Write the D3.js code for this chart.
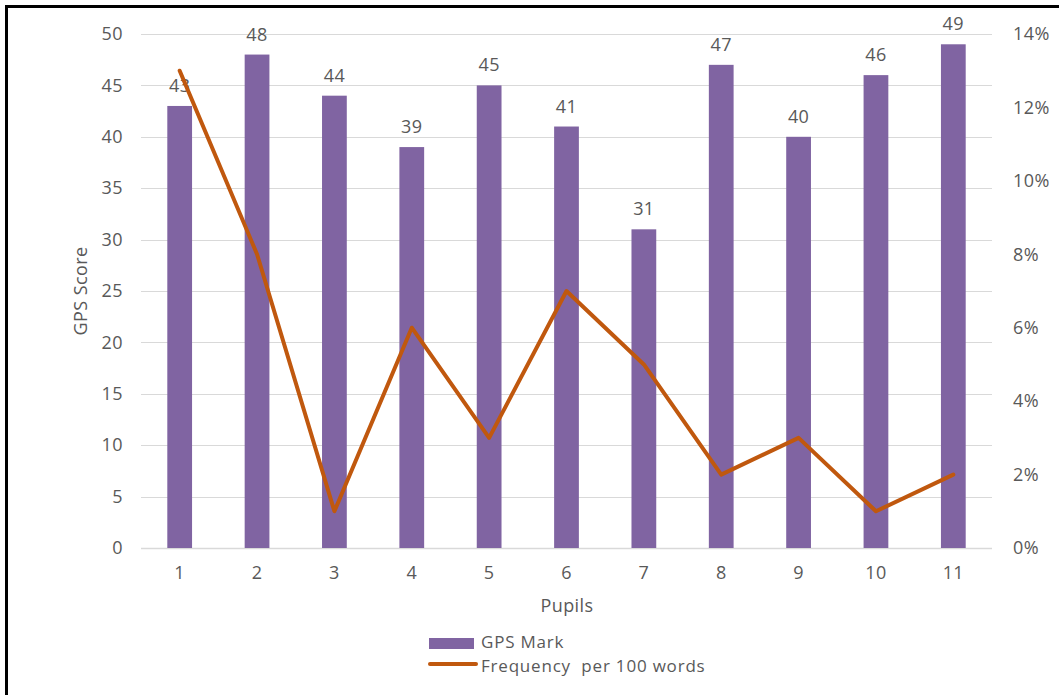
<!DOCTYPE html>
<html>
<head>
<meta charset="utf-8">
<script src="https://cdn.jsdelivr.net/npm/d3@7"></script>
<style>
  html, body { margin: 0; padding: 0; background: #fff; }
  svg { display: block; font-family: "Open Sans", sans-serif; letter-spacing: 0.4px; }
</style>
</head>
<body>
<svg id="chart" width="1059" height="695"></svg>
<script>
// Pupils and their scores
const pupils = ["1", "2", "3", "4", "5", "6", "7", "8", "9", "10", "11"];
const gpsMark = [43, 48, 44, 39, 45, 41, 31, 47, 40, 46, 49];
const frequency = [0.13, 0.08, 0.01, 0.06, 0.03, 0.07, 0.05, 0.02, 0.03, 0.01, 0.02];
const leftTicks = [0, 5, 10, 15, 20, 25, 30, 35, 40, 45, 50];
const rightTicks = [0, 0.02, 0.04, 0.06, 0.08, 0.10, 0.12, 0.14];

const barColor = "#8064A2";
const lineColor = "#C0580E";
const textColor = "#595959";
const gridColor = "#D9D9D9";
const fontFamily = "'Open Sans', sans-serif";
const fontSize = 18;

const svg = d3.select("#chart");

// outer frame
svg.append("rect")
  .attr("x", 6.5).attr("y", 6.5)
  .attr("width", 1070).attr("height", 700)
  .attr("fill", "none").attr("stroke", "#000").attr("stroke-width", 3);

const plot = { left: 141, right: 992, top: 34, bottom: 548 };

const x = d3.scaleBand().domain(pupils).range([plot.left, plot.right]).paddingInner(0).paddingOuter(0);
const yL = d3.scaleLinear().domain([0, 50]).range([plot.bottom, plot.top]);
const yR = d3.scaleLinear().domain([0, 0.14]).range([plot.bottom, plot.top]);

// horizontal gridlines
svg.append("g")
  .selectAll("line")
  .data(leftTicks)
  .join("line")
  .attr("x1", plot.left).attr("x2", plot.right)
  .attr("y1", d => Math.round(yL(d)) + 0.5).attr("y2", d => Math.round(yL(d)) + 0.5)
  .attr("stroke", gridColor).attr("stroke-width", d => d === 0 ? 1.5 : 1.2);

function styleAxisText(g) {
  g.select(".domain").remove();
  g.selectAll("text")
    .attr("fill", textColor)
    .attr("font-size", fontSize)
    .attr("font-family", fontFamily);
}

// left axis
svg.append("g")
  .attr("transform", `translate(${plot.left - 18},0)`)
  .call(d3.axisLeft(yL).tickValues(leftTicks).tickSize(0).tickPadding(0))
  .call(styleAxisText);

// right axis
svg.append("g")
  .attr("transform", `translate(${plot.right + 21},0)`)
  .call(d3.axisRight(yR).tickValues(rightTicks).tickFormat(d3.format(".0%")).tickSize(0).tickPadding(0))
  .call(styleAxisText);

// bottom axis labels
svg.append("g")
  .attr("transform", `translate(0,${plot.bottom + 18})`)
  .call(d3.axisBottom(x).tickSize(0).tickPadding(0))
  .call(styleAxisText);

// bars
const barW = x.bandwidth() * 0.32;
svg.append("g")
  .selectAll("rect")
  .data(gpsMark)
  .join("rect")
  .attr("x", (d, i) => x(pupils[i]) + x.bandwidth() / 2 - barW / 2)
  .attr("width", barW)
  .attr("y", d => yL(d))
  .attr("height", d => yL(0) - yL(d))
  .attr("fill", barColor);

// bar value labels
svg.append("g")
  .selectAll("text")
  .data(gpsMark)
  .join("text")
  .attr("x", (d, i) => x(pupils[i]) + x.bandwidth() / 2)
  .attr("y", d => yL(d) - 14)
  .attr("text-anchor", "middle")
  .attr("fill", textColor)
  .attr("font-size", fontSize)
  .text(d => d);

// frequency line
const line = d3.line()
  .x((d, i) => x(pupils[i]) + x.bandwidth() / 2)
  .y(d => yR(d));
svg.append("path")
  .datum(frequency)
  .attr("d", line)
  .attr("fill", "none")
  .attr("stroke", lineColor)
  .attr("stroke-width", 4)
  .attr("stroke-linejoin", "round")
  .attr("stroke-linecap", "round");

// axis titles
svg.append("text")
  .attr("x", 567).attr("y", 612)
  .attr("text-anchor", "middle")
  .attr("fill", textColor).attr("font-size", fontSize)
  .text("Pupils");

svg.append("text")
  .attr("transform", `translate(87,${(plot.top + plot.bottom) / 2}) rotate(-90)`)
  .attr("text-anchor", "middle")
  .attr("fill", textColor).attr("font-size", fontSize)
  .text("GPS Score");

// legend
const legendFont = 17;
const legend = svg.append("g").style("letter-spacing", "0.8px");
legend.append("rect")
  .attr("x", 429).attr("y", 638).attr("width", 45).attr("height", 11)
  .attr("fill", barColor);
legend.append("text")
  .attr("x", 481).attr("y", 648)
  .attr("fill", textColor).attr("font-size", legendFont)
  .text("GPS Mark");
legend.append("line")
  .attr("x1", 430).attr("x2", 476).attr("y1", 664).attr("y2", 664)
  .attr("stroke", lineColor).attr("stroke-width", 4).attr("stroke-linecap", "round");
legend.append("text")
  .attr("x", 481).attr("y", 672)
  .attr("fill", textColor).attr("font-size", legendFont)
  .style("white-space", "pre")
  .text("Frequency  per 100 words");
</script>
</body>
</html>
